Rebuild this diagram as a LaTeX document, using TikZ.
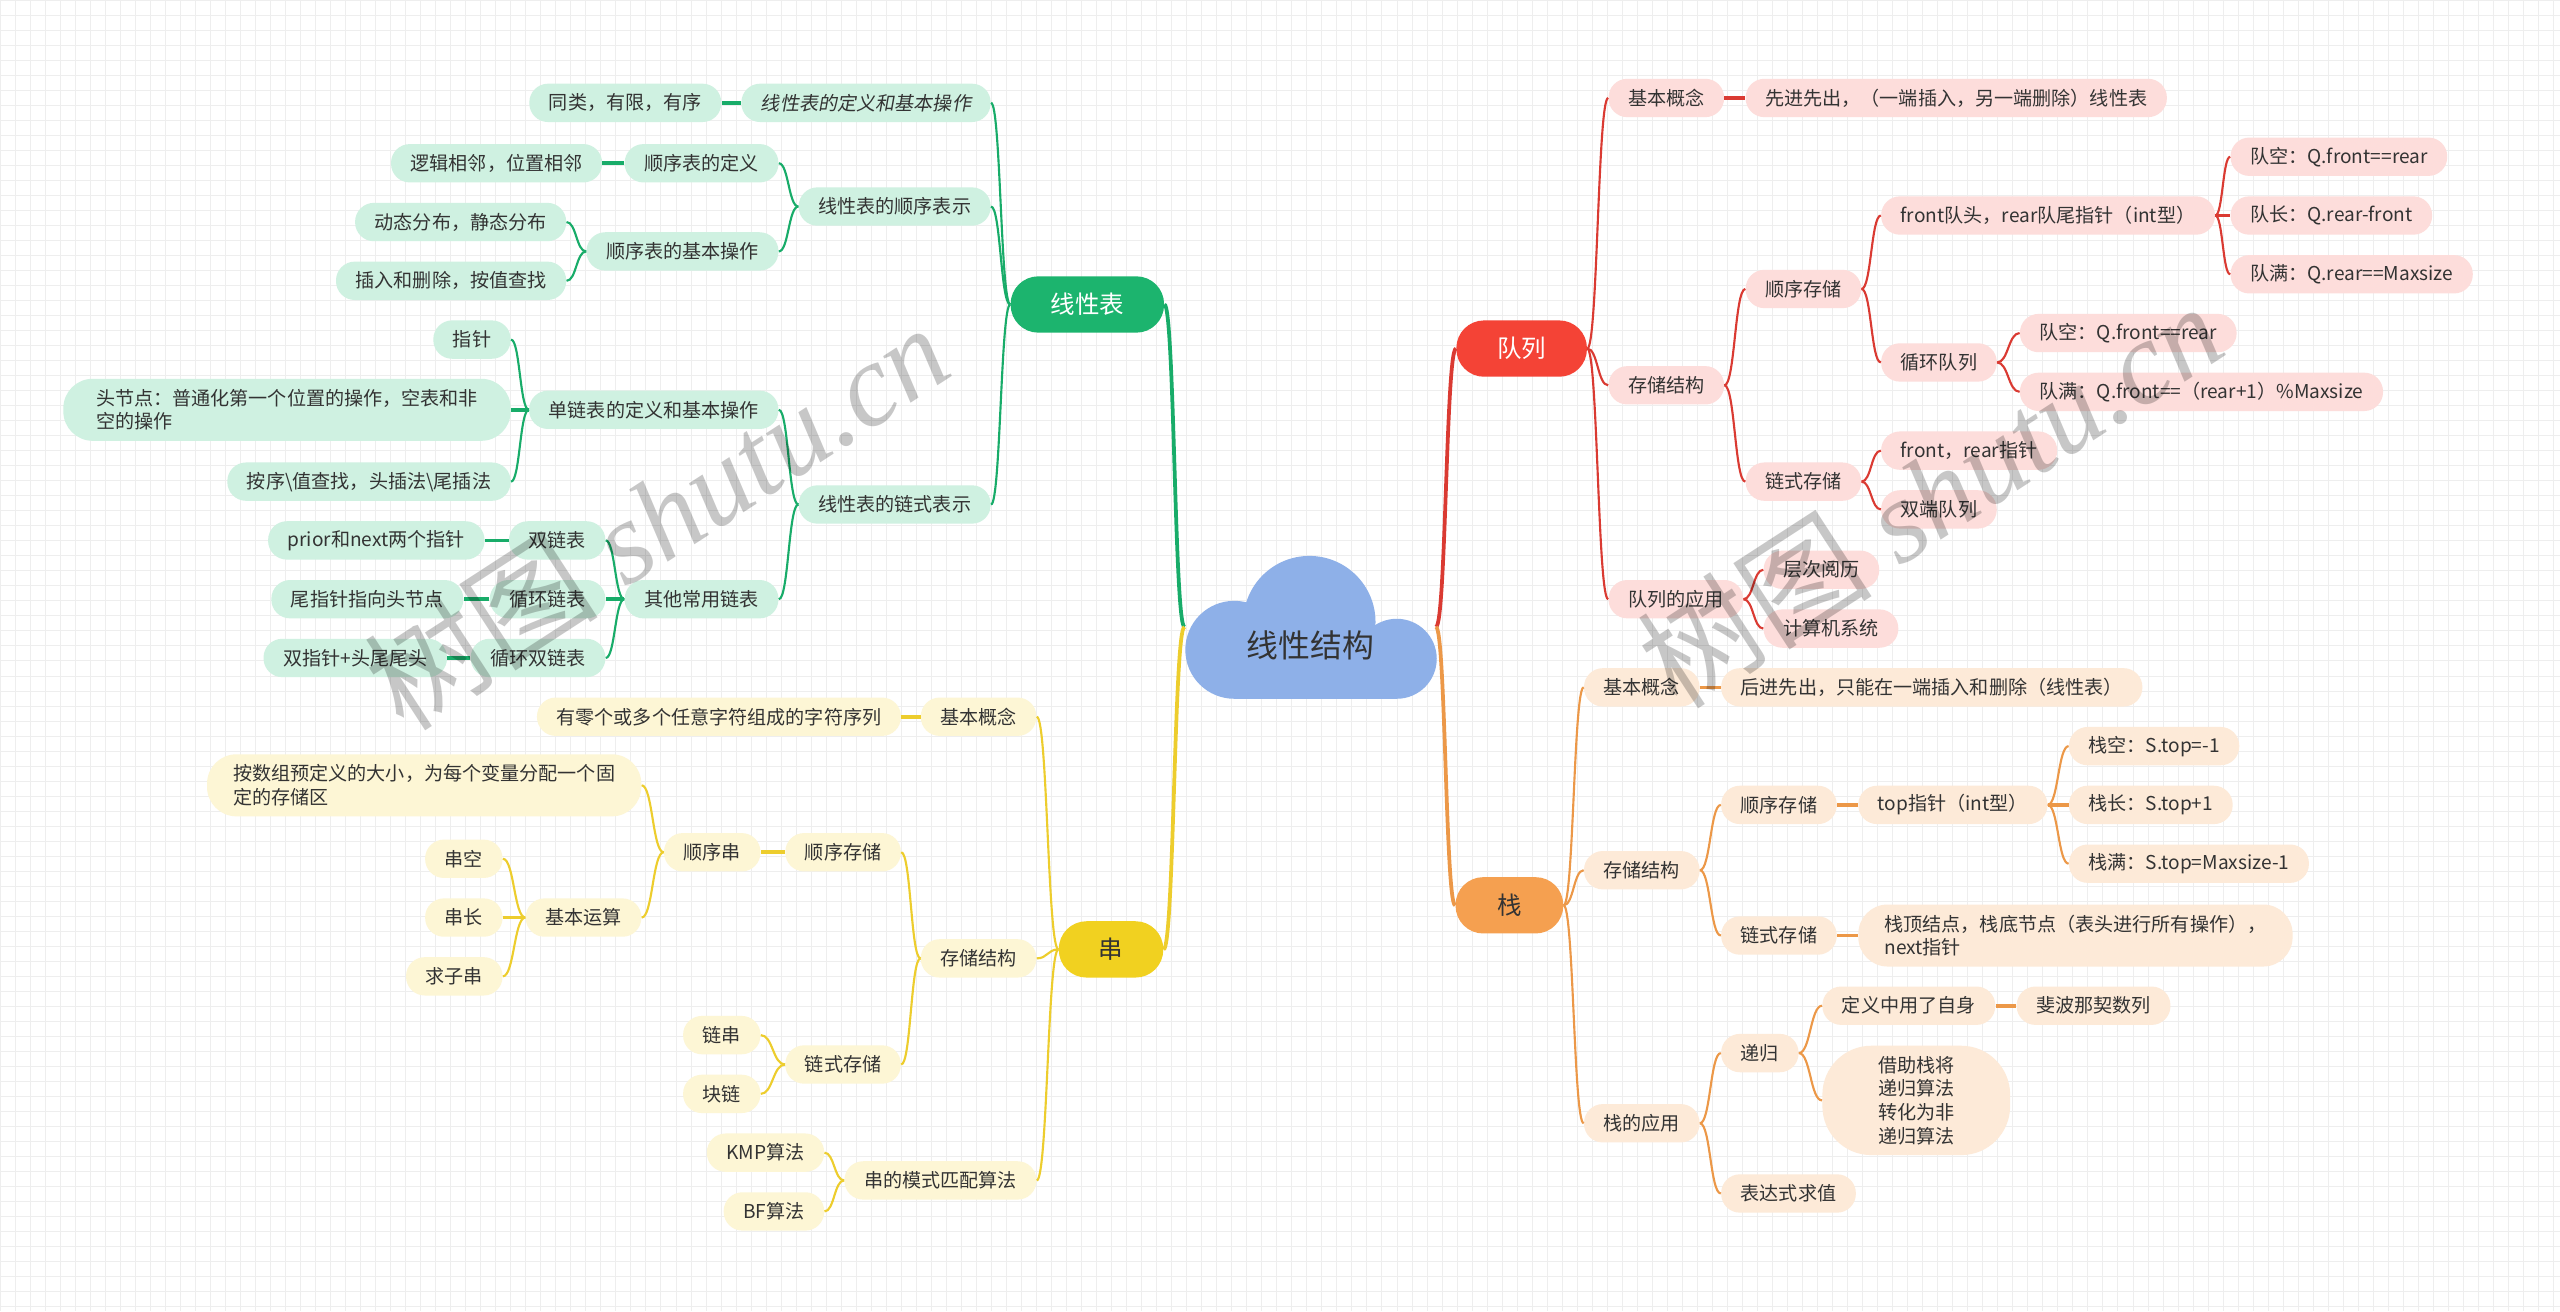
\documentclass[tikz,border=0pt]{standalone}
\usepackage{fontspec}
\setmainfont{Noto Sans CJK SC}
\newfontfamily\cjkslant[FakeSlant=0.18]{Noto Sans CJK SC}
\newfontfamily\wmlatin{Liberation Serif}
\usetikzlibrary{calc}
\definecolor{gmain}{RGB}{28,180,110}
\definecolor{gfill}{RGB}{207,241,225}
\definecolor{gline}{RGB}{24,172,105}
\definecolor{rmain}{RGB}{244,67,54}
\definecolor{rfill}{RGB}{253,221,219}
\definecolor{rline}{RGB}{218,58,50}
\definecolor{ymain}{RGB}{241,209,32}
\definecolor{yfill}{RGB}{253,246,213}
\definecolor{yline}{RGB}{237,205,45}
\definecolor{omain}{RGB}{245,160,80}
\definecolor{ofill}{RGB}{253,234,216}
\definecolor{oline}{RGB}{236,152,72}
\definecolor{cloudc}{RGB}{142,176,232}
\definecolor{txt}{RGB}{51,51,51}
\definecolor{gridc}{RGB}{238,238,238}
\newcommand\lnk[3]{\path (#2) -- coordinate[pos=.5](tmpm) (#3); \draw[#1] (#2) .. controls (tmpm |- #2) and (tmpm |- #3) .. (#3);}
\tikzset{
  nd/.style={rounded corners=11.5, minimum height=23.5, inner xsep=12, inner ysep=2, font=\fontsize{11.7}{14.5}\selectfont, text=txt},
  gnode/.style={nd, fill=gfill},
  rnode/.style={nd, fill=rfill},
  ynode/.style={nd, fill=yfill},
  onode/.style={nd, fill=ofill},
  mainn/.style={rounded corners=17, minimum height=34.5, inner xsep=0, font=\fontsize{15}{18}\selectfont},
  glink/.style={draw=gline, line width=1.3},
  rlink/.style={draw=rline, line width=1.3},
  ylink/.style={draw=yline, line width=1.3},
  olink/.style={draw=oline, line width=1.3},
  thick link/.style={line width=2.2},
  wmark/.style={rotate=33, text=black, opacity=0.22, font=\fontsize{72}{76}\selectfont},
}
\begin{document}
\begin{tikzpicture}[x=1pt,y=-1pt]
\useasboundingbox (0,0) rectangle (1568,803);
\fill[white] (0,0) rectangle (1568,803);
\foreach \i in {0,...,170} {\draw[gridc, line width=0.5] (\i*9.2,0) -- (\i*9.2,803);}
\foreach \j in {0,...,87} {\draw[gridc, line width=0.5] (0,\j*9.2) -- (1568,\j*9.2);}

% central cloud
\fill[cloudc] (756,398) circle[radius=30];
\fill[cloudc] (802,381) circle[radius=40.5];
\fill[cloudc] (855.5,403.5) circle[radius=24.5];
\fill[cloudc] (756,395) rectangle (855.5,428);
\node[font=\fontsize{19.5}{22}\selectfont, text=txt] (C) at (802.5,395) {线性结构};
\coordinate (cL) at (725.5,384);
\coordinate (cR) at (879.5,384);

% main nodes
\node[mainn, fill=gmain, text=white, minimum width=94] (G) at (666,186.5) {线性表};
\node[mainn, fill=rmain, text=white, minimum width=80] (Rq) at (932,213.5) {队列};
\node[mainn, fill=ymain, text=txt, minimum width=64] (Y) at (680.5,581.5) {串};
\node[mainn, fill=omain, text=txt, minimum width=66] (O) at (924.5,554.5) {栈};

% green
\node[gnode, anchor=east, font=\cjkslant\fontsize{11.7}{14.5}\selectfont] (g1) at (607,63) {线性表的定义和基本操作};
\node[gnode, anchor=east] (g1a) at (442,63) {同类，有限，有序};
\node[gnode, anchor=east] (g2) at (607,126.5) {线性表的顺序表示};
\node[gnode, anchor=east] (g2a) at (477,100) {顺序表的定义};
\node[gnode, anchor=east] (g2a1) at (369,100) {逻辑相邻，位置相邻};
\node[gnode, anchor=east] (g2b) at (477,154) {顺序表的基本操作};
\node[gnode, anchor=east] (g2b1) at (347,136) {动态分布，静态分布};
\node[gnode, anchor=east] (g2b2) at (347,172) {插入和删除，按值查找};
\node[gnode, anchor=east] (g3) at (607,309) {线性表的链式表示};
\node[gnode, anchor=east] (g3a) at (477,251) {单链表的定义和基本操作};
\node[gnode, anchor=east] (g3a1) at (313,208) {指针};
\node[gnode, anchor=east, align=left, minimum height=38, inner xsep=20, rounded corners=18] (g3a2) at (313,251) {头节点：普通化第一个位置的操作，空表和非\\空的操作};
\node[gnode, anchor=east] (g3a3) at (313,295) {按序\textbackslash 值查找，头插法\textbackslash 尾插法};
\node[gnode, anchor=east] (g3b) at (477,367) {其他常用链表};
\node[gnode, anchor=east] (g3b1) at (371,331) {双链表};
\node[gnode, anchor=east] (g3b1a) at (297,331) {prior和next两个指针};
\node[gnode, anchor=east] (g3b2) at (371,367) {循环链表};
\node[gnode, anchor=east] (g3b2a) at (284,367) {尾指针指向头节点};
\node[gnode, anchor=east] (g3b3) at (371,403) {循环双链表};
\node[gnode, anchor=east] (g3b3a) at (274,403) {双指针+头尾尾头};

% yellow
\node[ynode, anchor=east] (y1) at (635,439) {基本概念};
\node[ynode, anchor=east] (y1a) at (552,439) {有零个或多个任意字符组成的字符序列};
\node[ynode, anchor=east] (y2) at (635,587) {存储结构};
\node[ynode, anchor=east] (y2a) at (552,522) {顺序存储};
\node[ynode, anchor=east] (y2a1) at (466,522) {顺序串};
\node[ynode, anchor=east, align=left, minimum height=38, inner xsep=16, rounded corners=18] (y2a1a) at (393,481) {按数组预定义的大小，为每个变量分配一个固\\定的存储区};
\node[ynode, anchor=east] (y2a1b) at (393,562) {基本运算};
\node[ynode, anchor=east] (y2a1b1) at (308,526) {串空};
\node[ynode, anchor=east] (y2a1b2) at (308,562) {串长};
\node[ynode, anchor=east] (y2a1b3) at (308,598) {求子串};
\node[ynode, anchor=east] (y2b) at (552,652) {链式存储};
\node[ynode, anchor=east] (y2b1) at (466,634) {链串};
\node[ynode, anchor=east] (y2b2) at (466,670) {块链};
\node[ynode, anchor=east] (y3) at (635,723) {串的模式匹配算法};
\node[ynode, anchor=east] (y3a) at (505,706) {KMP算法};
\node[ynode, anchor=east] (y3b) at (505,742) {BF算法};

% red
\node[rnode, anchor=west] (r1) at (985,60) {基本概念};
\node[rnode, anchor=west] (r1a) at (1069,60) {先进先出，（一端插入，另一端删除）线性表};
\node[rnode, anchor=west] (r2) at (985,236) {存储结构};
\node[rnode, anchor=west] (r2a) at (1069,177) {顺序存储};
\node[rnode, anchor=west] (r2a1) at (1152,132) {front队头，rear队尾指针（int型）};
\node[rnode, anchor=west] (r2a1a) at (1366,96) {队空：Q.front==rear};
\node[rnode, anchor=west] (r2a1b) at (1366,132) {队长：Q.rear-front};
\node[rnode, anchor=west] (r2a1c) at (1366,168) {队满：Q.rear==Maxsize};
\node[rnode, anchor=west] (r2a2) at (1152,222) {循环队列};
\node[rnode, anchor=west] (r2a2a) at (1237,204) {队空：Q.front==rear};
\node[rnode, anchor=west] (r2a2b) at (1237,240) {队满：Q.front==（rear+1）\%Maxsize};
\node[rnode, anchor=west] (r2b) at (1069,295) {链式存储};
\node[rnode, anchor=west] (r2b1) at (1152,276) {front，rear指针};
\node[rnode, anchor=west] (r2b2) at (1152,312) {双端队列};
\node[rnode, anchor=west] (r3) at (985,367) {队列的应用};
\node[rnode, anchor=west] (r3a) at (1080,349) {层次阅历};
\node[rnode, anchor=west] (r3b) at (1080,385) {计算机系统};

% orange
\node[onode, anchor=west] (o1) at (970,421) {基本概念};
\node[onode, anchor=west] (o1a) at (1054,421) {后进先出，只能在一端插入和删除（线性表）};
\node[onode, anchor=west] (o2) at (970,533) {存储结构};
\node[onode, anchor=west] (o2a) at (1054,493) {顺序存储};
\node[onode, anchor=west] (o2a1) at (1138,493) {top指针（int型）};
\node[onode, anchor=west] (o2a1a) at (1267,457) {栈空：S.top=-1};
\node[onode, anchor=west] (o2a1b) at (1267,493) {栈长：S.top+1};
\node[onode, anchor=west] (o2a1c) at (1267,529) {栈满：S.top=Maxsize-1};
\node[onode, anchor=west] (o2b) at (1054,573) {链式存储};
\node[onode, anchor=west, align=left, minimum height=38, inner xsep=16, rounded corners=18] (o2b1) at (1138,573) {栈顶结点，栈底节点（表头进行所有操作），\\next指针};
\node[onode, anchor=west] (o3) at (970,688) {栈的应用};
\node[onode, anchor=west] (o3a) at (1054,645) {递归};
\node[onode, anchor=west] (o3a1) at (1116,616) {定义中用了自身};
\node[onode, anchor=west] (o3a1a) at (1235,616) {斐波那契数列};
\node[onode, anchor=west, align=center, rounded corners=30, minimum width=115, minimum height=67] (o3a2) at (1116,674) {借助栈将\\递归算法\\转化为非\\递归算法};
\node[onode, anchor=west] (o3b) at (1054,731) {表达式求值};

% main links
\lnk{draw=gline, line width=2.3}{cL}{G.east}
\lnk{draw=yline, line width=2.3}{cL}{Y.east}
\lnk{draw=rline, line width=2.3}{cR}{Rq.west}
\lnk{draw=oline, line width=2.3}{cR}{O.west}

% green links
\lnk{glink}{G.west}{g1.east}
\lnk{glink}{G.west}{g2.east}
\lnk{glink}{G.west}{g3.east}
\lnk{glink, thick link}{g1.west}{g1a.east}
\lnk{glink}{g2.west}{g2a.east}
\lnk{glink}{g2.west}{g2b.east}
\lnk{glink, thick link}{g2a.west}{g2a1.east}
\lnk{glink}{g2b.west}{g2b1.east}
\lnk{glink}{g2b.west}{g2b2.east}
\lnk{glink}{g3.west}{g3a.east}
\lnk{glink}{g3.west}{g3b.east}
\lnk{glink}{g3a.west}{g3a1.east}
\lnk{glink, thick link}{g3a.west}{g3a2.east}
\lnk{glink}{g3a.west}{g3a3.east}
\lnk{glink}{g3b.west}{g3b1.east}
\lnk{glink, thick link}{g3b.west}{g3b2.east}
\lnk{glink}{g3b.west}{g3b3.east}
\lnk{glink, thick link}{g3b1.west}{g3b1a.east}
\lnk{glink, thick link}{g3b2.west}{g3b2a.east}
\lnk{glink, thick link}{g3b3.west}{g3b3a.east}

% yellow links
\lnk{ylink}{Y.west}{y1.east}
\lnk{ylink}{Y.west}{y2.east}
\lnk{ylink}{Y.west}{y3.east}
\lnk{ylink, thick link}{y1.west}{y1a.east}
\lnk{ylink}{y2.west}{y2a.east}
\lnk{ylink}{y2.west}{y2b.east}
\lnk{ylink, thick link}{y2a.west}{y2a1.east}
\lnk{ylink}{y2a1.west}{y2a1a.east}
\lnk{ylink}{y2a1.west}{y2a1b.east}
\lnk{ylink}{y2a1b.west}{y2a1b1.east}
\lnk{ylink, thick link}{y2a1b.west}{y2a1b2.east}
\lnk{ylink}{y2a1b.west}{y2a1b3.east}
\lnk{ylink}{y2b.west}{y2b1.east}
\lnk{ylink}{y2b.west}{y2b2.east}
\lnk{ylink}{y3.west}{y3a.east}
\lnk{ylink}{y3.west}{y3b.east}

% red links
\lnk{rlink}{Rq.east}{r1.west}
\lnk{rlink}{Rq.east}{r2.west}
\lnk{rlink}{Rq.east}{r3.west}
\lnk{rlink, thick link}{r1.east}{r1a.west}
\lnk{rlink}{r2.east}{r2a.west}
\lnk{rlink}{r2.east}{r2b.west}
\lnk{rlink}{r2a.east}{r2a1.west}
\lnk{rlink}{r2a.east}{r2a2.west}
\lnk{rlink}{r2a1.east}{r2a1a.west}
\lnk{rlink, thick link}{r2a1.east}{r2a1b.west}
\lnk{rlink}{r2a1.east}{r2a1c.west}
\lnk{rlink}{r2a2.east}{r2a2a.west}
\lnk{rlink}{r2a2.east}{r2a2b.west}
\lnk{rlink}{r2b.east}{r2b1.west}
\lnk{rlink}{r2b.east}{r2b2.west}
\lnk{rlink}{r3.east}{r3a.west}
\lnk{rlink}{r3.east}{r3b.west}

% orange links
\lnk{olink}{O.east}{o1.west}
\lnk{olink}{O.east}{o2.west}
\lnk{olink}{O.east}{o3.west}
\lnk{olink, thick link}{o1.east}{o1a.west}
\lnk{olink}{o2.east}{o2a.west}
\lnk{olink}{o2.east}{o2b.west}
\lnk{olink, thick link}{o2a.east}{o2a1.west}
\lnk{olink}{o2a1.east}{o2a1a.west}
\lnk{olink, thick link}{o2a1.east}{o2a1b.west}
\lnk{olink}{o2a1.east}{o2a1c.west}
\lnk{olink, thick link}{o2b.east}{o2b1.west}
\lnk{olink}{o3.east}{o3a.west}
\lnk{olink}{o3.east}{o3b.west}
\lnk{olink}{o3a.east}{o3a1.west}
\lnk{olink}{o3a.east}{o3a2.west}
\lnk{olink, thick link}{o3a1.east}{o3a1a.west}

% watermarks
\node[wmark] (wm1) at (402,316) {树图{\wmlatin\itshape\ shutu.cn}};
\node[wmark] (wm2) at (1182,303) {树图{\wmlatin\itshape\ shutu.cn}};
\end{tikzpicture}
\end{document}
